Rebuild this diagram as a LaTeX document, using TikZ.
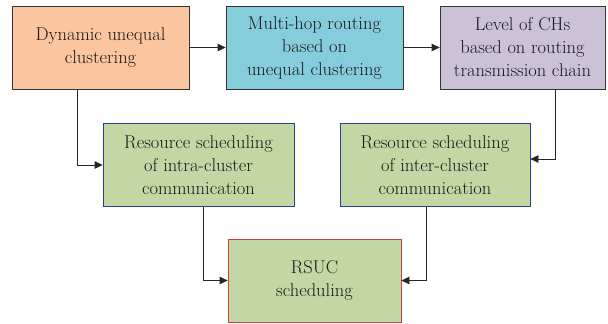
\documentclass[tikz,border=0pt]{standalone}
\usepackage{tikz}
\usetikzlibrary{positioning, arrows.meta}

\definecolor{peach}{HTML}{FAC59F}
\definecolor{cyanbox}{HTML}{86CDDB}
\definecolor{lilac}{HTML}{CBC1D9}
\definecolor{sage}{HTML}{C3D7A5}
\definecolor{edgeblue}{HTML}{2E3D9C}
\definecolor{edgered}{HTML}{D9393E}

\begin{document}
\begin{tikzpicture}[x=1pt, y=-1pt,
		stagebox/.style={draw=black!80, line width=0.8pt, align=center, inner sep=0pt,
			minimum height=83pt, font=\fontsize{18.5}{23}\selectfont, text=black!90},
		flow/.style={-{Triangle[length=8pt, width=7.5pt]}, line width=0.8pt, draw=black!85}]
		% --- RAMKA ---
		\useasboundingbox (0,0) rectangle (608,324);
		
		% Górny rząd
		\node[stagebox, fill=peach, minimum width=177pt] (dyn) at (100.5,47.5) {Dynamic unequal\\clustering};
		\node[stagebox, fill=cyanbox, minimum width=177pt] (hop) at (314.5,47.5) {Multi-hop routing\\based on\\unequal clustering};
		\node[stagebox, fill=lilac, minimum width=165pt] (lvl) at (522.5,47.5) {Level of CHs\\based on routing\\transmission chain};
		
		% Środkowy rząd
		\node[stagebox, fill=sage, draw=edgeblue, minimum width=191pt] (intra) at (198.5,165) {Resource scheduling\\of intra-cluster\\communication};
		\node[stagebox, fill=sage, draw=edgeblue, minimum width=190pt] (inter) at (435,165) {Resource scheduling\\of inter-cluster\\communication};
		
		% Dolny blok
		\node[stagebox, fill=sage, draw=edgered, minimum width=173pt] (rsuc) at (314.5,280.5) {RSUC\\scheduling};
		
		% --- Strzałki ---
		\draw[flow] (dyn) -- (hop);
		\draw[flow] (hop) -- (lvl);
		\draw[flow] ([xshift=-23.5pt]dyn.south) |- (intra.west);
		\draw[flow] ([xshift=32.5pt]lvl.south) |- ([yshift=6pt]inter.east);
		\draw[flow] ([xshift=4.5pt]intra.south) |- (rsuc.west);
		\draw[flow] ([xshift=-9pt]inter.south) |- (rsuc.east);
		
	\end{tikzpicture}
\end{document}
